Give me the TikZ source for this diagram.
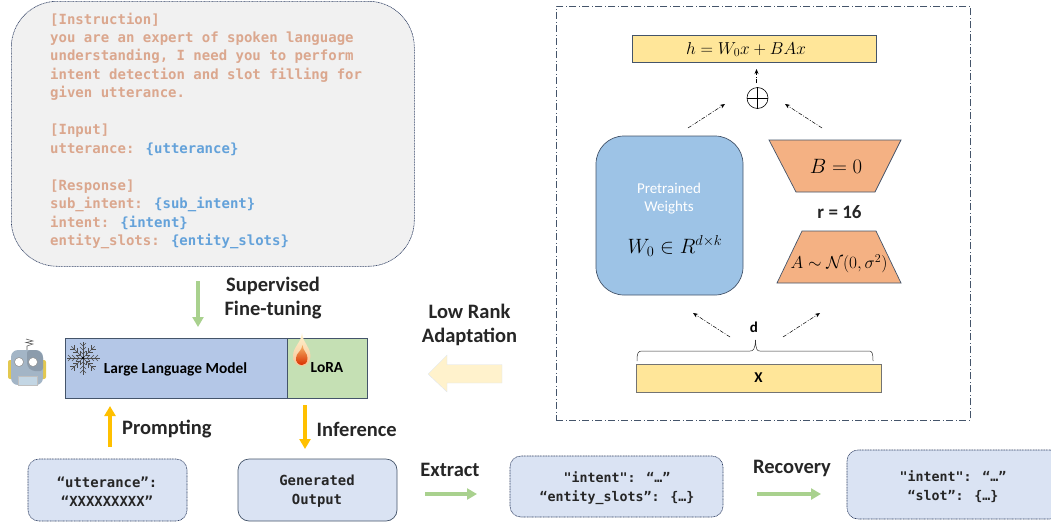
\documentclass[tikz,border=0pt]{standalone}
\usepackage{amsmath,amssymb}
\usepackage{fontspec}
\setmainfont{Carlito}
\newfontfamily\cmono{DejaVu Sans Mono}
\usetikzlibrary{arrows.meta,shapes.geometric,calc}
\definecolor{salmon}{HTML}{DBA78E}
\definecolor{tblue}{HTML}{64A2DA}
\definecolor{edgeblue}{HTML}{44546A}
\definecolor{navy}{HTML}{2F3F63}
\definecolor{lightblue}{HTML}{DAE3F3}
\definecolor{llm}{HTML}{B4C7E7}
\definecolor{lora}{HTML}{C5E0B4}
\definecolor{gold}{HTML}{FFC000}
\definecolor{garrow}{HTML}{A9D18E}
\definecolor{paley}{HTML}{FFF2CC}
\definecolor{ybox}{HTML}{FFE699}
\definecolor{orangeb}{HTML}{F4B183}
\definecolor{wblue}{HTML}{9DC3E6}
\definecolor{txt}{HTML}{262626}
\definecolor{rhead}{HTML}{A3B5C6}
\definecolor{rdark}{HTML}{8C9CAC}
\definecolor{rear}{HTML}{E3C84F}
\definecolor{rbody}{HTML}{C3D6E4}
\tikzset{
  x=1pt,y=-1pt,
  box/.style={draw=edgeblue,line width=0.7pt,fill=#1,inner sep=0pt,outer sep=0pt},
  jsonbox/.style={draw=navy,fill=lightblue,rounded corners=11pt,inner sep=0pt,outer sep=0pt},
  jsontext/.style={inner sep=0pt,align=center,text=txt,font=\cmono\bfseries\fontsize{#1}{19}\selectfont},
  dotted line/.style={dash pattern=on 1pt off .6pt,line width=.6pt},
  lbl/.style={font=\bfseries\fontsize{20.5}{24}\selectfont,text=txt,align=center,inner sep=0pt},
  thinarrow/.style={line width=3.2pt,draw=#1,-{Triangle[length=10pt,width=11pt,fill=#1]}},
  ddarrow/.style={draw=black,line width=0.5pt,dash pattern=on 4pt off 1.5pt on 1pt off 1.5pt,-{Stealth[length=5pt,width=4pt]}},
  trap/.style={draw=edgeblue,line width=0.7pt,fill=orangeb},
}
\begin{document}
\begin{tikzpicture}
\useasboundingbox (0,0) rectangle (1051,522);
% prompt
\node[draw=navy,fill=black!5.5,rounded corners=46pt,dotted line,
  minimum width=403pt,minimum height=265pt,anchor=north west,inner sep=0pt] (prompt) at (11,1) {};
\node[anchor=north west,inner sep=0pt,align=left,font=\cmono\bfseries\fontsize{14}{18.45}\selectfont,text=salmon] (ptext) at (50,12.5)
{[Instruction]\\ you are an expert of spoken language\\ understanding, I need you to perform\\ intent detection and slot filling for\\ given utterance.\\[18.45pt]
[Input]\\ utterance: \textcolor{tblue}{\{utterance\}}\\[18.45pt]
[Response]\\ sub\_intent: \textcolor{tblue}{\{sub\_intent\}}\\ intent: \textcolor{tblue}{\{intent\}}\\ entity\_slots: \textcolor{tblue}{\{entity\_slots\}}};
% supervised
\coordinate (s1) at (198,281);
\coordinate (s2) at (198,327);
\draw[thinarrow=garrow] (s1) -- (s2);
\node[lbl] (sup) at (273,298.5) {Supervised\\Fine-tuning};
% model
\node[box=llm,minimum width=222pt,minimum height=60pt,anchor=north west] (llm) at (65,338) {};
\node[box=lora,minimum width=80pt,minimum height=60pt,anchor=north west] (lora) at (287,338) {};
\node[font=\bfseries\fontsize{15.4}{17}\selectfont,text=black,inner sep=0pt] (llmt) at (175.5,369) {Large Language Model};
\node[font=\bfseries\fontsize{15.4}{17}\selectfont,text=black,inner sep=0pt] (lorat) at (327,368) {LoRA};
% snowflake
\begin{scope}[shift={(83,358)},draw=black!70,line width=.45pt]
\foreach \a in {0,45,...,315}{
  \begin{scope}[rotate=\a]
  \draw (0,0) -- (16.5,0);
  \draw (7,-3)--(4,0)--(7,3);
  \draw (11,-3)--(8,0)--(11,3);
  \draw (15,-3)--(12,0)--(15,3);
  \end{scope}}
\fill[black] (0,0) circle (1.3);
\end{scope}
% flame
\shade[top color=paley,bottom color=orangeb!70!paley]
  (302,333) .. controls (303,343) and (310,346) .. (310.5,356) .. controls (310.5,363) and (306,366) .. (302,366)
  .. controls (297,366) and (293,362) .. (293,356) .. controls (293,347) and (301,343) .. (302,333) -- cycle;
\shade[top color=orangeb!80!gold,bottom color=red!55!orange!85!black]
  (302.5,345) .. controls (303,351) and (307.5,353) .. (307.5,358) .. controls (307.5,363) and (305,365) .. (302,365)
  .. controls (298,365) and (296,362) .. (296,358) .. controls (296,353) and (302,351) .. (302.5,345) -- cycle;
% robot
\draw[black!65,line width=.6pt] (27,351) -- (27,346) -- (33,344) -- (26,342.5) -- (33,341) -- (26,339);
\fill[rear,rounded corners=2pt] (8,360) rectangle (15,379);
\fill[rear,rounded corners=2pt] (39,360) rectangle (46,379);
\fill[rhead,rounded corners=7pt] (11,350) rectangle (43,385);
\fill[rdark,rounded corners=3pt] (27,350) -- (38,350) -- (43,355) -- (43,371) -- (32,371) -- (27,366) -- cycle;
\fill[white,draw=black!45,line width=.5pt] (19,362) circle (4.5);
\fill[white,draw=black!45,line width=.5pt] (33,362) circle (4.5);
\fill[rbody,draw=black!25,line width=.3pt] (18,376) rectangle (37,385);
% yellow arrows
\coordinate (p1) at (110,447);
\coordinate (p2) at (110,406);
\coordinate (i1) at (305,405);
\coordinate (i2) at (305,449);
\draw[thinarrow=gold] (p1) -- (p2);
\draw[thinarrow=gold] (i1) -- (i2);
\node[lbl,anchor=west] (prompting) at (122,429) {Prompting};
\node[lbl,anchor=west] (inference) at (316.5,429) {Inference};
% bottom boxes
\node[jsonbox,dotted line,minimum width=159pt,minimum height=62pt,anchor=north west] (utt) at (28,459) {};
\node[jsontext=13.9] (uttt) at (107,491.5) {“utterance”:\\“XXXXXXXXX”};
\node[jsonbox,draw=edgeblue,line width=.7pt,minimum width=159pt,minimum height=62pt,anchor=north west] (gen) at (238,459) {};
\node[jsontext=13.9] (gent) at (317,491.5) {Generated\\Output};
\node[jsonbox,dotted line,minimum width=213pt,minimum height=61pt,anchor=north west] (ext) at (510,456) {};
\node[jsontext=13.3] (extt) at (617,488.5) {"intent": “…”\\“entity\_slots”: \{…\}};
\node[jsonbox,dotted line,minimum width=214pt,minimum height=69pt,anchor=north west] (rec) at (847,450) {};
\node[jsontext=13.3] (rect) at (953,486.5) {"intent": “…”\\“slot”: \{…\}};
\node[lbl] (extract) at (450,470) {Extract};
\node[lbl] (recovery) at (792,468) {Recovery};
\coordinate (e1) at (425,494);
\coordinate (e2) at (477,494);
\coordinate (r1) at (757,494);
\coordinate (r2) at (821,494);
\draw[thinarrow=garrow] (e1) -- (e2);
\draw[thinarrow=garrow] (r1) -- (r2);
% low rank
\node[lbl] (lowrank) at (469.5,324.5) {Low Rank\\Adaptation};
\draw[draw=lightblue,line width=.3pt,fill=paley] (502,364.5) -- (447,364.5) -- (447,355) -- (428,374) -- (447,392) -- (447,383) -- (502,383) -- cycle;
% LoRA panel
\node[draw=edgeblue,line width=.6pt,dash pattern=on 7pt off 2.5pt on 1pt off 2.5pt,minimum width=414pt,minimum height=414pt,anchor=north west,inner sep=0pt] (frame) at (556,6) {};
\node[box=ybox,minimum width=244pt,minimum height=27pt,anchor=north west] (h) at (632,35) {};
\node[inner sep=0pt] (ht) at (746,49.5) {\fontsize{18.2}{20}\selectfont $h = W_0x + BAx$};
\node[circle,draw=black,line width=.6pt,minimum size=21pt,inner sep=0pt] (plus) at (757.5,98) {};
\draw[line width=.6pt] (plus.north) -- (plus.south) (plus.west) -- (plus.east);
\node[box=wblue,rounded corners=28pt,minimum width=147pt,minimum height=159pt,anchor=north west] (w) at (596,136) {};
\node[text=white,align=center,font=\fontsize{15}{18}\selectfont,inner sep=0pt] (pw) at (669,199) {Pretrained\\Weights};
\node[inner sep=0pt] (wm) at (675,246) {\fontsize{19.6}{22}\selectfont $W_0 \in R^{d\times k}$};
\draw[trap] (769,140) -- (901,140) -- (875,192) -- (796,192) -- cycle;
\node[inner sep=0pt] (b) at (836,166) {\fontsize{21.5}{24}\selectfont $B = 0$};
\node[inner sep=0pt,font=\bfseries\fontsize{19}{21}\selectfont,text=txt] (r) at (839.5,212) {r = 16};
\draw[trap] (802,231) -- (876,231) -- (901,283) -- (777,283) -- cycle;
\node[inner sep=0pt] (a) at (839,264) {\fontsize{18.4}{20}\selectfont $A \sim \mathcal{N}(0,\sigma^2)$};
\node[box=ybox,draw=black!55,minimum width=245pt,minimum height=28pt,anchor=north west,font=\bfseries\fontsize{15}{17}\selectfont] (x) at (636,364) {X};
\node[inner sep=0pt,font=\bfseries\fontsize{15}{17}\selectfont] (d) at (754,327) {d};
\draw[line width=.5pt,draw=black!80] (637,361) .. controls (637,353) and (638,351) .. (642,351) -- (750,351) .. controls (753,351) and (755,350) .. (755.5,340)
  .. controls (756,350) and (757,351) .. (760,351) -- (869,351) .. controls (872,351) and (873,353) .. (873,361);
% dash-dot arrows
\coordinate (a1) at (688,128);
\coordinate (a2) at (725,104);
\coordinate (a3) at (822,128);
\coordinate (a4) at (785,104);
\coordinate (a5) at (730,337);
\coordinate (a6) at (693,313);
\coordinate (a7) at (783,337);
\coordinate (a8) at (820,313);
\coordinate (a9) at (756.5,83);
\coordinate (a10) at (756.5,69);
\draw[ddarrow] (a1) -- (a2);
\draw[ddarrow] (a3) -- (a4);
\draw[ddarrow] (a5) -- (a6);
\draw[ddarrow] (a7) -- (a8);
\draw[ddarrow] (a9) -- (a10);
\end{tikzpicture}
\end{document}
